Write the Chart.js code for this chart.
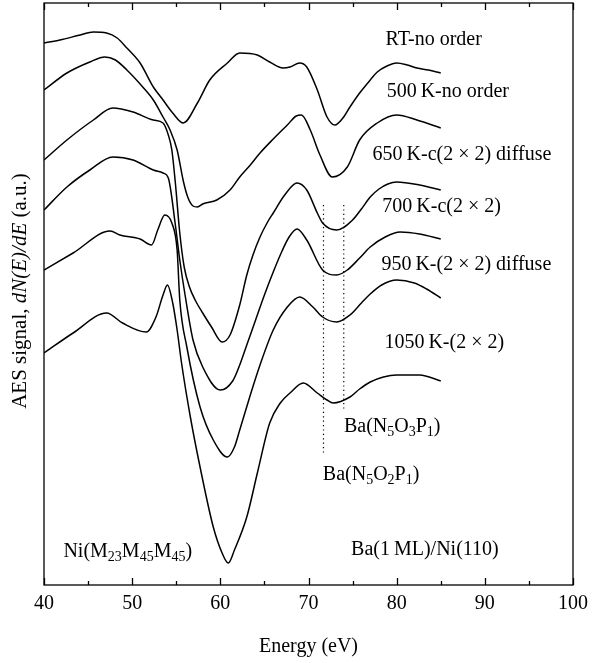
<!DOCTYPE html>
<html>
<head>
<meta charset="utf-8">
<script src="https://cdn.jsdelivr.net/npm/chart.js@4.4.0/dist/chart.umd.min.js"></script>
<style>
  html, body { margin: 0; padding: 0; background: #fff; }
  #wrap { width: 598px; height: 663px; }
</style>
</head>
<body>
<div id="wrap"><canvas id="aes" width="598" height="663"></canvas></div>
<script>
// AES spectra of Ba(1 ML)/Ni(110) after annealing, curves offset vertically (a.u.)
const energyRT = [40.0, 41.8, 44.1, 45.6, 47.1, 48.3, 49.4, 50.9, 52.4, 53.5, 54.6, 55.8, 57.4, 58.8, 60.8, 62.2, 64.2, 65.6, 67.1, 67.9, 69.0, 69.8, 71.0, 72.1, 73.0, 73.9, 74.7, 75.8, 77.0, 77.8, 78.9, 80.0, 81.2, 82.3, 83.6, 85.0];
const signalRT = [542, 545, 550, 553, 552, 547, 537, 522, 498, 485, 472, 462, 482, 505, 522, 532, 530, 523, 517, 518, 522, 518, 495, 468, 460, 467, 478, 492, 505, 513, 519, 522, 520, 517, 515, 512];

const energy500 = [40.0, 42.6, 45.2, 46.9, 48.1, 49.4, 51.2, 52.4, 53.5, 54.3, 55.1, 55.8, 56.3, 56.9, 57.4, 58.0, 59.6, 61.1, 62.2, 63.4, 64.5, 66.0, 67.6, 68.6, 69.2, 70.2, 71.3, 72.7, 74.4, 75.8, 77.8, 80.0, 82.3, 85.0];
const signal500 = [495, 512, 523, 528, 525, 515, 498, 485, 468, 455, 435, 404, 388, 379, 378, 381, 385, 395, 408, 420, 432, 446, 460, 469, 470, 455, 430, 408, 418, 445, 462, 470, 465, 457];

const energy650 = [40.0, 42.6, 45.6, 47.8, 50.1, 52.4, 53.5, 54.1, 54.5, 54.9, 55.4, 55.9, 56.5, 57.2, 58.0, 59.0, 60.2, 61.1, 62.2, 63.0, 63.7, 64.5, 65.3, 66.0, 67.3, 68.7, 69.8, 71.0, 71.6, 73.2, 75.0, 76.0, 77.0, 78.0, 79.0, 80.0, 82.6, 85.0];
const signal650 = [425, 445, 465, 477, 473, 465, 462, 450, 435, 402, 352, 318, 298, 284, 272, 258, 243, 250, 280, 310, 330, 348, 362, 372, 390, 402, 395, 372, 362, 355, 365, 376, 388, 396, 401, 403, 400, 395];

const energy700 = [40.0, 42.6, 45.2, 47.8, 50.1, 52.4, 53.5, 54.1, 54.9, 55.4, 56.0, 56.9, 58.0, 60.0, 61.4, 62.2, 63.0, 64.0, 65.0, 66.0, 67.0, 67.8, 68.7, 69.8, 71.6, 73.2, 74.4, 75.8, 77.0, 78.7, 80.4, 82.6, 85.0];
const signal700 = [375, 398, 415, 428, 425, 415, 412, 407, 360, 325, 290, 245, 218, 195, 204, 220, 240, 265, 290, 313, 334, 348, 356, 345, 315, 310, 315, 327, 338, 348, 353, 351, 346];

const energy950 = [40.0, 43.3, 47.5, 48.6, 50.9, 52.2, 52.9, 53.7, 54.5, 55.1, 55.4, 56.2, 57.7, 59.2, 60.8, 61.6, 62.2, 63.4, 64.5, 66.0, 67.6, 69.0, 70.5, 71.6, 73.2, 74.7, 76.0, 77.0, 78.3, 80.0, 82.0, 83.4, 85.0];
const signal950 = [315, 332, 354, 350, 346, 340, 355, 370, 362, 335, 285, 238, 178, 145, 128, 138, 155, 190, 220, 255, 278, 288, 278, 268, 263, 270, 282, 291, 300, 305, 302, 296, 287];

const energy1050 = [40.0, 43.3, 47.1, 48.9, 51.6, 52.7, 53.5, 54.0, 54.6, 55.1, 55.6, 56.6, 57.7, 59.2, 60.2, 60.9, 61.6, 63.0, 64.2, 65.6, 66.8, 67.9, 69.4, 71.0, 72.1, 72.8, 74.7, 75.8, 77.0, 78.5, 80.0, 82.6, 85.0];
const signal1050 = [232, 252, 272, 262, 253, 268, 290, 300, 282, 255, 222, 168, 118, 58, 32, 22, 35, 68, 112, 162, 182, 192, 202, 192, 185, 182, 188, 196, 203, 208, 210, 210, 204];

// Ba Auger line positions (eV) and the signal range of their dotted guide lines
const markerEnergy = [71.7, 74.0];
const markerTop = [380, 380];
const markerBottom = [130, 175];

const FONT = "'Liberation Serif', 'Times New Roman', serif";

function pts(xs, ys) { return xs.map((x, i) => ({ x: x, y: ys[i] })); }

const curve = {
  borderColor: '#000', borderWidth: 1.5, pointRadius: 0, fill: false,
  cubicInterpolationMode: 'monotone'
};

const datasets = [
  Object.assign({ label: 'RT', data: pts(energyRT, signalRT) }, curve),
  Object.assign({ label: '500 K', data: pts(energy500, signal500) }, curve),
  Object.assign({ label: '650 K', data: pts(energy650, signal650) }, curve),
  Object.assign({ label: '700 K', data: pts(energy700, signal700) }, curve),
  Object.assign({ label: '950 K', data: pts(energy950, signal950) }, curve),
  Object.assign({ label: '1050 K', data: pts(energy1050, signal1050) }, curve)
];
markerEnergy.forEach((e, i) => {
  datasets.push({
    label: 'marker' + i,
    data: [{ x: e, y: markerTop[i] }, { x: e, y: markerBottom[i] }],
    borderColor: '#000', borderWidth: 1.2, borderDash: [1.2, 3.2],
    pointRadius: 0, fill: false
  });
});

// text labels: parts are [text, style] with style '' | 'sub' | 'it'
const notes = [
  { at: [84.2, 545], parts: [['RT-no order', '']] },
  { at: [85.8, 493], parts: [['500\u2009K-no order', '']] },
  { at: [87.4, 430], parts: [['650\u2009K-c(2 \u00d7 2) diffuse', '']] },
  { at: [85.1, 378], parts: [['700\u2009K-c(2 \u00d7 2)', '']] },
  { at: [87.9, 320], parts: [['950\u2009K-(2 \u00d7 2) diffuse', '']] },
  { at: [85.4, 242], parts: [['1050\u2009K-(2 \u00d7 2)', '']] },
  { at: [79.5, 158], parts: [['Ba(N', ''], ['5', 'sub'], ['O', ''], ['3', 'sub'], ['P', ''], ['1', 'sub'], [')', '']] },
  { at: [77.1, 110], parts: [['Ba(N', ''], ['5', 'sub'], ['O', ''], ['2', 'sub'], ['P', ''], ['1', 'sub'], [')', '']] },
  { at: [83.2, 35], parts: [['Ba(1\u2009ML)/Ni(110)', '']] },
  { at: [49.5, 33], parts: [['Ni(M', ''], ['23', 'sub'], ['M', ''], ['45', 'sub'], ['M', ''], ['45', 'sub'], [')', '']] }
];
const yTitle = [['AES signal, ', ''], ['dN(E)/dE', 'it'], [' (a.u.)', '']];

const SIZE = 20;
function partFont(style, size) {
  if (style === 'sub') return Math.round(size * 0.72) + 'px ' + FONT;
  if (style === 'it') return 'italic ' + size + 'px ' + FONT;
  return size + 'px ' + FONT;
}
function drawParts(ctx, parts, cx, cy, size) {
  let w = 0;
  parts.forEach(p => { ctx.font = partFont(p[1], size); w += ctx.measureText(p[0]).width; });
  let x = cx - w / 2;
  ctx.textAlign = 'left';
  ctx.textBaseline = 'middle';
  parts.forEach(p => {
    ctx.font = partFont(p[1], size);
    ctx.fillText(p[0], x, cy + (p[1] === 'sub' ? 5 : 0));
    x += ctx.measureText(p[0]).width;
  });
}

const decor = {
  id: 'decor',
  afterDatasetsDraw(chart) {
    const { ctx, chartArea: a, scales: { x, y } } = chart;
    ctx.save();
    ctx.strokeStyle = '#000';
    ctx.lineWidth = 1.3;
    ctx.strokeRect(a.left, a.top, a.right - a.left, a.bottom - a.top);
    for (let e = x.min; e <= x.max; e += 5) {
      const px = Math.round(x.getPixelForValue(e)) + 0.5;
      const len = e % 10 === 0 ? 7 : 4;
      ctx.beginPath();
      ctx.moveTo(px, a.bottom); ctx.lineTo(px, a.bottom - len);
      ctx.moveTo(px, a.top); ctx.lineTo(px, a.top + len);
      ctx.stroke();
    }
    ctx.fillStyle = '#000';
    notes.forEach(n => drawParts(ctx, n.parts, x.getPixelForValue(n.at[0]), y.getPixelForValue(n.at[1]), SIZE));
    ctx.translate(20, (a.top + a.bottom) / 2 - 3);
    ctx.rotate(-Math.PI / 2);
    drawParts(ctx, yTitle, 0, 0, 21);
    ctx.restore();
  }
};

new Chart(document.getElementById('aes'), {
  type: 'line',
  data: { datasets: datasets },
  options: {
    responsive: false,
    animation: false,
    layout: { padding: { top: 3, right: 25, left: 0, bottom: 0 } },
    plugins: { legend: { display: false }, tooltip: { enabled: false } },
    scales: {
      x: {
        type: 'linear', min: 40, max: 100,
        grid: { display: false, drawTicks: false }, border: { display: false },
        ticks: { stepSize: 10, color: '#000', padding: 7, font: { family: FONT, size: SIZE } },
        title: { display: true, text: 'Energy (eV)', color: '#000', padding: { top: 0, bottom: 4 }, font: { family: FONT, size: SIZE } },
        afterFit(s) { s.height = 78; }
      },
      y: {
        type: 'linear', min: 0, max: 582,
        grid: { display: false }, border: { display: false },
        ticks: { display: false },
        afterFit(s) { s.width = 44; }
      }
    }
  },
  plugins: [decor]
});
</script>
</body>
</html>
